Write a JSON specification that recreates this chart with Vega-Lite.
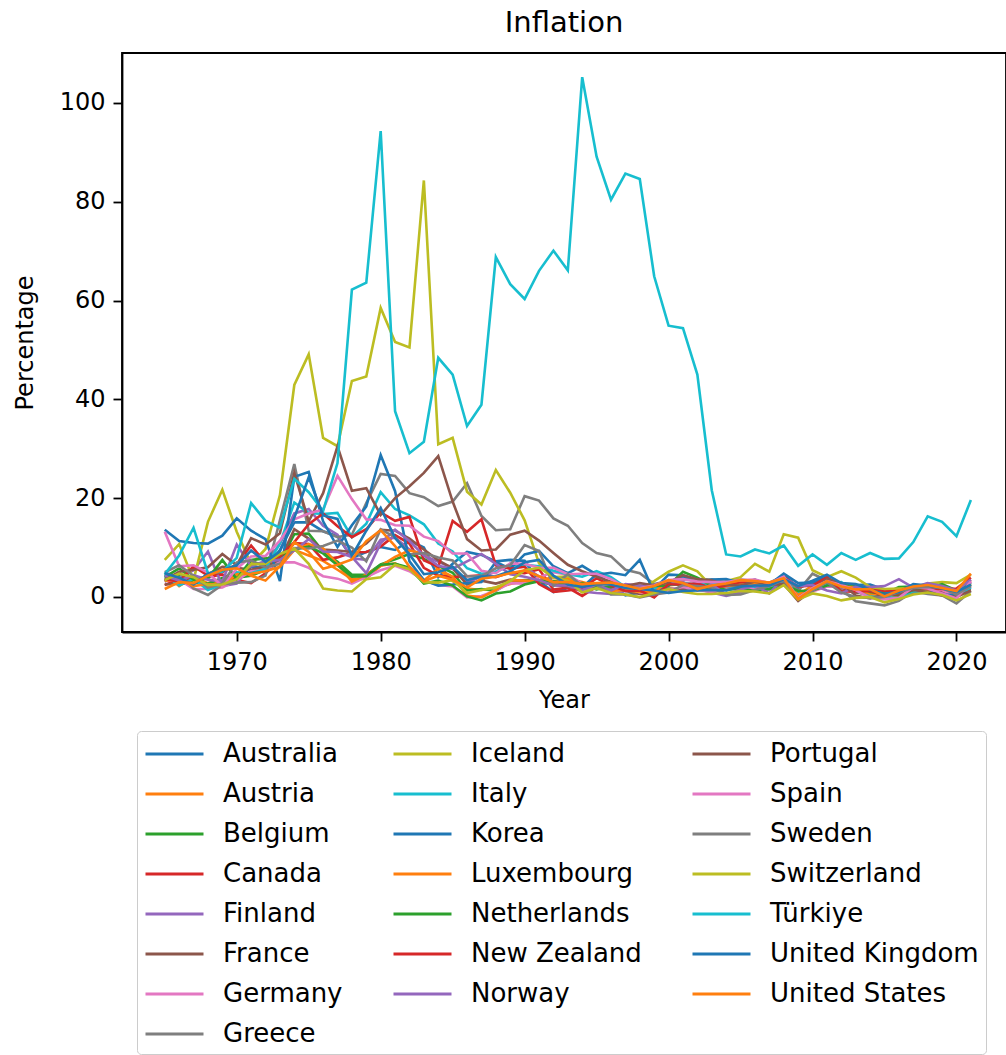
{
"$schema":"https://vega.github.io/schema/vega-lite/v6.json",
"autosize":{"type":"none"},
"padding":{"left":122,"top":53,"right":0,"bottom":423},
"width":884,"height":579,
"background":"white",
"title":{"text":"Inflation","fontSize":29,"font":"DejaVu Sans","fontWeight":"normal","color":"black","offset":15,"anchor":"middle"},
"data":{"values":[
{"c":"Australia","yr":1965,"v":4.0},{"c":"Australia","yr":1966,"v":3.0},{"c":"Australia","yr":1967,"v":3.3},{"c":"Australia","yr":1968,"v":2.6},{"c":"Australia","yr":1969,"v":2.9},{"c":"Australia","yr":1970,"v":3.4},{"c":"Australia","yr":1971,"v":6.1},{"c":"Australia","yr":1972,"v":5.9},{"c":"Australia","yr":1973,"v":9.5},{"c":"Australia","yr":1974,"v":15.1},
{"c":"Australia","yr":1975,"v":15.1},{"c":"Australia","yr":1976,"v":13.3},{"c":"Australia","yr":1977,"v":12.3},{"c":"Australia","yr":1978,"v":7.9},{"c":"Australia","yr":1979,"v":9.1},{"c":"Australia","yr":1980,"v":10.1},{"c":"Australia","yr":1981,"v":9.5},{"c":"Australia","yr":1982,"v":11.4},{"c":"Australia","yr":1983,"v":10.0},{"c":"Australia","yr":1984,"v":4.0},
{"c":"Australia","yr":1985,"v":6.7},{"c":"Australia","yr":1986,"v":9.1},{"c":"Australia","yr":1987,"v":8.5},{"c":"Australia","yr":1988,"v":7.2},{"c":"Australia","yr":1989,"v":7.5},{"c":"Australia","yr":1990,"v":7.3},{"c":"Australia","yr":1991,"v":3.2},{"c":"Australia","yr":1992,"v":1.0},{"c":"Australia","yr":1993,"v":1.8},{"c":"Australia","yr":1994,"v":1.9},
{"c":"Australia","yr":1995,"v":4.6},{"c":"Australia","yr":1996,"v":2.6},{"c":"Australia","yr":1997,"v":0.3},{"c":"Australia","yr":1998,"v":0.9},{"c":"Australia","yr":1999,"v":1.5},{"c":"Australia","yr":2000,"v":4.5},{"c":"Australia","yr":2001,"v":4.4},{"c":"Australia","yr":2002,"v":3.0},{"c":"Australia","yr":2003,"v":2.8},{"c":"Australia","yr":2004,"v":2.3},
{"c":"Australia","yr":2005,"v":2.7},{"c":"Australia","yr":2006,"v":3.5},{"c":"Australia","yr":2007,"v":2.3},{"c":"Australia","yr":2008,"v":4.4},{"c":"Australia","yr":2009,"v":1.8},{"c":"Australia","yr":2010,"v":2.9},{"c":"Australia","yr":2011,"v":3.3},{"c":"Australia","yr":2012,"v":1.8},{"c":"Australia","yr":2013,"v":2.4},{"c":"Australia","yr":2014,"v":2.5},
{"c":"Australia","yr":2015,"v":1.5},{"c":"Australia","yr":2016,"v":1.3},{"c":"Australia","yr":2017,"v":2.0},{"c":"Australia","yr":2018,"v":1.9},{"c":"Australia","yr":2019,"v":1.6},{"c":"Australia","yr":2020,"v":0.8},{"c":"Australia","yr":2021,"v":2.9},
{"c":"Austria","yr":1965,"v":4.9},{"c":"Austria","yr":1966,"v":2.2},{"c":"Austria","yr":1967,"v":4.0},{"c":"Austria","yr":1968,"v":2.8},{"c":"Austria","yr":1969,"v":3.1},{"c":"Austria","yr":1970,"v":4.4},{"c":"Austria","yr":1971,"v":4.7},{"c":"Austria","yr":1972,"v":6.4},{"c":"Austria","yr":1973,"v":7.5},{"c":"Austria","yr":1974,"v":9.5},
{"c":"Austria","yr":1975,"v":8.4},{"c":"Austria","yr":1976,"v":7.3},{"c":"Austria","yr":1977,"v":5.5},{"c":"Austria","yr":1978,"v":3.6},{"c":"Austria","yr":1979,"v":3.7},{"c":"Austria","yr":1980,"v":6.3},{"c":"Austria","yr":1981,"v":6.8},{"c":"Austria","yr":1982,"v":5.4},{"c":"Austria","yr":1983,"v":3.3},{"c":"Austria","yr":1984,"v":5.7},
{"c":"Austria","yr":1985,"v":3.2},{"c":"Austria","yr":1986,"v":1.7},{"c":"Austria","yr":1987,"v":1.4},{"c":"Austria","yr":1988,"v":1.9},{"c":"Austria","yr":1989,"v":2.6},{"c":"Austria","yr":1990,"v":3.3},{"c":"Austria","yr":1991,"v":3.3},{"c":"Austria","yr":1992,"v":4.0},{"c":"Austria","yr":1993,"v":3.6},{"c":"Austria","yr":1994,"v":3.0},
{"c":"Austria","yr":1995,"v":2.2},{"c":"Austria","yr":1996,"v":1.9},{"c":"Austria","yr":1997,"v":1.3},{"c":"Austria","yr":1998,"v":0.9},{"c":"Austria","yr":1999,"v":0.6},{"c":"Austria","yr":2000,"v":2.3},{"c":"Austria","yr":2001,"v":2.7},{"c":"Austria","yr":2002,"v":1.8},{"c":"Austria","yr":2003,"v":1.4},{"c":"Austria","yr":2004,"v":2.1},
{"c":"Austria","yr":2005,"v":2.3},{"c":"Austria","yr":2006,"v":1.4},{"c":"Austria","yr":2007,"v":2.2},{"c":"Austria","yr":2008,"v":3.2},{"c":"Austria","yr":2009,"v":0.5},{"c":"Austria","yr":2010,"v":1.8},{"c":"Austria","yr":2011,"v":3.3},{"c":"Austria","yr":2012,"v":2.5},{"c":"Austria","yr":2013,"v":2.0},{"c":"Austria","yr":2014,"v":1.6},
{"c":"Austria","yr":2015,"v":0.9},{"c":"Austria","yr":2016,"v":0.9},{"c":"Austria","yr":2017,"v":2.1},{"c":"Austria","yr":2018,"v":2.0},{"c":"Austria","yr":2019,"v":1.5},{"c":"Austria","yr":2020,"v":1.4},{"c":"Austria","yr":2021,"v":2.8},
{"c":"Belgium","yr":1965,"v":4.1},{"c":"Belgium","yr":1966,"v":4.2},{"c":"Belgium","yr":1967,"v":2.9},{"c":"Belgium","yr":1968,"v":2.7},{"c":"Belgium","yr":1969,"v":3.8},{"c":"Belgium","yr":1970,"v":3.9},{"c":"Belgium","yr":1971,"v":4.3},{"c":"Belgium","yr":1972,"v":5.5},{"c":"Belgium","yr":1973,"v":7.0},{"c":"Belgium","yr":1974,"v":12.7},
{"c":"Belgium","yr":1975,"v":12.8},{"c":"Belgium","yr":1976,"v":9.2},{"c":"Belgium","yr":1977,"v":7.1},{"c":"Belgium","yr":1978,"v":4.5},{"c":"Belgium","yr":1979,"v":4.5},{"c":"Belgium","yr":1980,"v":6.6},{"c":"Belgium","yr":1981,"v":7.6},{"c":"Belgium","yr":1982,"v":8.7},{"c":"Belgium","yr":1983,"v":7.7},{"c":"Belgium","yr":1984,"v":6.3},
{"c":"Belgium","yr":1985,"v":4.9},{"c":"Belgium","yr":1986,"v":1.3},{"c":"Belgium","yr":1987,"v":1.6},{"c":"Belgium","yr":1988,"v":1.2},{"c":"Belgium","yr":1989,"v":3.1},{"c":"Belgium","yr":1990,"v":3.4},{"c":"Belgium","yr":1991,"v":3.2},{"c":"Belgium","yr":1992,"v":2.4},{"c":"Belgium","yr":1993,"v":2.8},{"c":"Belgium","yr":1994,"v":2.4},
{"c":"Belgium","yr":1995,"v":1.5},{"c":"Belgium","yr":1996,"v":2.1},{"c":"Belgium","yr":1997,"v":1.6},{"c":"Belgium","yr":1998,"v":0.9},{"c":"Belgium","yr":1999,"v":1.1},{"c":"Belgium","yr":2000,"v":2.5},{"c":"Belgium","yr":2001,"v":2.5},{"c":"Belgium","yr":2002,"v":1.6},{"c":"Belgium","yr":2003,"v":1.6},{"c":"Belgium","yr":2004,"v":2.1},
{"c":"Belgium","yr":2005,"v":2.8},{"c":"Belgium","yr":2006,"v":1.8},{"c":"Belgium","yr":2007,"v":1.8},{"c":"Belgium","yr":2008,"v":4.5},{"c":"Belgium","yr":2009,"v":-0.1},{"c":"Belgium","yr":2010,"v":2.2},{"c":"Belgium","yr":2011,"v":3.5},{"c":"Belgium","yr":2012,"v":2.8},{"c":"Belgium","yr":2013,"v":1.1},{"c":"Belgium","yr":2014,"v":0.3},
{"c":"Belgium","yr":2015,"v":0.6},{"c":"Belgium","yr":2016,"v":2.0},{"c":"Belgium","yr":2017,"v":2.1},{"c":"Belgium","yr":2018,"v":2.1},{"c":"Belgium","yr":2019,"v":1.4},{"c":"Belgium","yr":2020,"v":0.7},{"c":"Belgium","yr":2021,"v":2.4},
{"c":"Canada","yr":1965,"v":2.4},{"c":"Canada","yr":1966,"v":3.7},{"c":"Canada","yr":1967,"v":3.6},{"c":"Canada","yr":1968,"v":4.1},{"c":"Canada","yr":1969,"v":4.5},{"c":"Canada","yr":1970,"v":3.4},{"c":"Canada","yr":1971,"v":2.8},{"c":"Canada","yr":1972,"v":4.8},{"c":"Canada","yr":1973,"v":7.6},{"c":"Canada","yr":1974,"v":10.9},
{"c":"Canada","yr":1975,"v":10.7},{"c":"Canada","yr":1976,"v":7.5},{"c":"Canada","yr":1977,"v":8.0},{"c":"Canada","yr":1978,"v":9.0},{"c":"Canada","yr":1979,"v":9.1},{"c":"Canada","yr":1980,"v":10.2},{"c":"Canada","yr":1981,"v":12.5},{"c":"Canada","yr":1982,"v":10.8},{"c":"Canada","yr":1983,"v":5.9},{"c":"Canada","yr":1984,"v":4.3},
{"c":"Canada","yr":1985,"v":4.0},{"c":"Canada","yr":1986,"v":4.2},{"c":"Canada","yr":1987,"v":4.4},{"c":"Canada","yr":1988,"v":4.0},{"c":"Canada","yr":1989,"v":5.0},{"c":"Canada","yr":1990,"v":4.8},{"c":"Canada","yr":1991,"v":5.6},{"c":"Canada","yr":1992,"v":1.5},{"c":"Canada","yr":1993,"v":1.9},{"c":"Canada","yr":1994,"v":0.2},
{"c":"Canada","yr":1995,"v":2.1},{"c":"Canada","yr":1996,"v":1.6},{"c":"Canada","yr":1997,"v":1.6},{"c":"Canada","yr":1998,"v":1.0},{"c":"Canada","yr":1999,"v":1.7},{"c":"Canada","yr":2000,"v":2.7},{"c":"Canada","yr":2001,"v":2.5},{"c":"Canada","yr":2002,"v":2.3},{"c":"Canada","yr":2003,"v":2.8},{"c":"Canada","yr":2004,"v":1.9},
{"c":"Canada","yr":2005,"v":2.2},{"c":"Canada","yr":2006,"v":2.0},{"c":"Canada","yr":2007,"v":2.1},{"c":"Canada","yr":2008,"v":2.4},{"c":"Canada","yr":2009,"v":0.3},{"c":"Canada","yr":2010,"v":1.8},{"c":"Canada","yr":2011,"v":2.9},{"c":"Canada","yr":2012,"v":1.5},{"c":"Canada","yr":2013,"v":0.9},{"c":"Canada","yr":2014,"v":1.9},
{"c":"Canada","yr":2015,"v":1.1},{"c":"Canada","yr":2016,"v":1.4},{"c":"Canada","yr":2017,"v":1.6},{"c":"Canada","yr":2018,"v":2.3},{"c":"Canada","yr":2019,"v":1.9},{"c":"Canada","yr":2020,"v":0.7},{"c":"Canada","yr":2021,"v":3.4},
{"c":"Finland","yr":1965,"v":5.0},{"c":"Finland","yr":1966,"v":3.8},{"c":"Finland","yr":1967,"v":5.4},{"c":"Finland","yr":1968,"v":9.2},{"c":"Finland","yr":1969,"v":2.2},{"c":"Finland","yr":1970,"v":2.7},{"c":"Finland","yr":1971,"v":6.5},{"c":"Finland","yr":1972,"v":7.1},{"c":"Finland","yr":1973,"v":10.7},{"c":"Finland","yr":1974,"v":16.9},
{"c":"Finland","yr":1975,"v":17.8},{"c":"Finland","yr":1976,"v":14.4},{"c":"Finland","yr":1977,"v":12.6},{"c":"Finland","yr":1978,"v":7.8},{"c":"Finland","yr":1979,"v":7.5},{"c":"Finland","yr":1980,"v":11.6},{"c":"Finland","yr":1981,"v":12.0},{"c":"Finland","yr":1982,"v":9.6},{"c":"Finland","yr":1983,"v":8.4},{"c":"Finland","yr":1984,"v":7.1},
{"c":"Finland","yr":1985,"v":5.9},{"c":"Finland","yr":1986,"v":2.9},{"c":"Finland","yr":1987,"v":4.1},{"c":"Finland","yr":1988,"v":5.1},{"c":"Finland","yr":1989,"v":6.6},{"c":"Finland","yr":1990,"v":6.1},{"c":"Finland","yr":1991,"v":4.1},{"c":"Finland","yr":1992,"v":2.6},{"c":"Finland","yr":1993,"v":2.2},{"c":"Finland","yr":1994,"v":1.1},
{"c":"Finland","yr":1995,"v":0.8},{"c":"Finland","yr":1996,"v":0.6},{"c":"Finland","yr":1997,"v":1.2},{"c":"Finland","yr":1998,"v":1.4},{"c":"Finland","yr":1999,"v":1.2},{"c":"Finland","yr":2000,"v":3.4},{"c":"Finland","yr":2001,"v":2.6},{"c":"Finland","yr":2002,"v":1.6},{"c":"Finland","yr":2003,"v":0.9},{"c":"Finland","yr":2004,"v":0.2},
{"c":"Finland","yr":2005,"v":0.9},{"c":"Finland","yr":2006,"v":1.6},{"c":"Finland","yr":2007,"v":2.5},{"c":"Finland","yr":2008,"v":4.1},{"c":"Finland","yr":2009,"v":0.0},{"c":"Finland","yr":2010,"v":1.2},{"c":"Finland","yr":2011,"v":3.4},{"c":"Finland","yr":2012,"v":2.8},{"c":"Finland","yr":2013,"v":1.5},{"c":"Finland","yr":2014,"v":1.0},
{"c":"Finland","yr":2015,"v":-0.2},{"c":"Finland","yr":2016,"v":0.4},{"c":"Finland","yr":2017,"v":0.7},{"c":"Finland","yr":2018,"v":1.1},{"c":"Finland","yr":2019,"v":1.0},{"c":"Finland","yr":2020,"v":0.3},{"c":"Finland","yr":2021,"v":2.2},
{"c":"France","yr":1965,"v":2.5},{"c":"France","yr":1966,"v":2.7},{"c":"France","yr":1967,"v":2.7},{"c":"France","yr":1968,"v":4.6},{"c":"France","yr":1969,"v":6.1},{"c":"France","yr":1970,"v":5.9},{"c":"France","yr":1971,"v":5.5},{"c":"France","yr":1972,"v":6.2},{"c":"France","yr":1973,"v":7.3},{"c":"France","yr":1974,"v":13.7},
{"c":"France","yr":1975,"v":11.8},{"c":"France","yr":1976,"v":9.6},{"c":"France","yr":1977,"v":9.4},{"c":"France","yr":1978,"v":9.1},{"c":"France","yr":1979,"v":10.8},{"c":"France","yr":1980,"v":13.6},{"c":"France","yr":1981,"v":13.4},{"c":"France","yr":1982,"v":11.8},{"c":"France","yr":1983,"v":9.6},{"c":"France","yr":1984,"v":7.4},
{"c":"France","yr":1985,"v":5.8},{"c":"France","yr":1986,"v":2.5},{"c":"France","yr":1987,"v":3.3},{"c":"France","yr":1988,"v":2.7},{"c":"France","yr":1989,"v":3.5},{"c":"France","yr":1990,"v":3.2},{"c":"France","yr":1991,"v":3.2},{"c":"France","yr":1992,"v":2.4},{"c":"France","yr":1993,"v":2.1},{"c":"France","yr":1994,"v":1.7},
{"c":"France","yr":1995,"v":1.8},{"c":"France","yr":1996,"v":2.0},{"c":"France","yr":1997,"v":1.2},{"c":"France","yr":1998,"v":0.6},{"c":"France","yr":1999,"v":0.5},{"c":"France","yr":2000,"v":1.7},{"c":"France","yr":2001,"v":1.6},{"c":"France","yr":2002,"v":1.9},{"c":"France","yr":2003,"v":2.1},{"c":"France","yr":2004,"v":2.1},
{"c":"France","yr":2005,"v":1.7},{"c":"France","yr":2006,"v":1.7},{"c":"France","yr":2007,"v":1.5},{"c":"France","yr":2008,"v":2.8},{"c":"France","yr":2009,"v":0.1},{"c":"France","yr":2010,"v":1.5},{"c":"France","yr":2011,"v":2.1},{"c":"France","yr":2012,"v":2.0},{"c":"France","yr":2013,"v":0.9},{"c":"France","yr":2014,"v":0.5},
{"c":"France","yr":2015,"v":0.0},{"c":"France","yr":2016,"v":0.2},{"c":"France","yr":2017,"v":1.0},{"c":"France","yr":2018,"v":1.9},{"c":"France","yr":2019,"v":1.1},{"c":"France","yr":2020,"v":0.5},{"c":"France","yr":2021,"v":1.6},
{"c":"Germany","yr":1965,"v":3.2},{"c":"Germany","yr":1966,"v":3.5},{"c":"Germany","yr":1967,"v":1.6},{"c":"Germany","yr":1968,"v":1.6},{"c":"Germany","yr":1969,"v":1.9},{"c":"Germany","yr":1970,"v":3.4},{"c":"Germany","yr":1971,"v":5.2},{"c":"Germany","yr":1972,"v":5.5},{"c":"Germany","yr":1973,"v":7.0},{"c":"Germany","yr":1974,"v":7.0},
{"c":"Germany","yr":1975,"v":5.9},{"c":"Germany","yr":1976,"v":4.2},{"c":"Germany","yr":1977,"v":3.7},{"c":"Germany","yr":1978,"v":2.7},{"c":"Germany","yr":1979,"v":4.0},{"c":"Germany","yr":1980,"v":5.4},{"c":"Germany","yr":1981,"v":6.3},{"c":"Germany","yr":1982,"v":5.2},{"c":"Germany","yr":1983,"v":3.3},{"c":"Germany","yr":1984,"v":2.4},
{"c":"Germany","yr":1985,"v":2.1},{"c":"Germany","yr":1986,"v":-0.1},{"c":"Germany","yr":1987,"v":0.2},{"c":"Germany","yr":1988,"v":1.3},{"c":"Germany","yr":1989,"v":2.8},{"c":"Germany","yr":1990,"v":2.7},{"c":"Germany","yr":1991,"v":4.0},{"c":"Germany","yr":1992,"v":5.0},{"c":"Germany","yr":1993,"v":4.5},{"c":"Germany","yr":1994,"v":2.7},
{"c":"Germany","yr":1995,"v":1.7},{"c":"Germany","yr":1996,"v":1.4},{"c":"Germany","yr":1997,"v":1.9},{"c":"Germany","yr":1998,"v":0.9},{"c":"Germany","yr":1999,"v":0.6},{"c":"Germany","yr":2000,"v":1.4},{"c":"Germany","yr":2001,"v":2.0},{"c":"Germany","yr":2002,"v":1.4},{"c":"Germany","yr":2003,"v":1.0},{"c":"Germany","yr":2004,"v":1.7},
{"c":"Germany","yr":2005,"v":1.5},{"c":"Germany","yr":2006,"v":1.6},{"c":"Germany","yr":2007,"v":2.3},{"c":"Germany","yr":2008,"v":2.6},{"c":"Germany","yr":2009,"v":0.3},{"c":"Germany","yr":2010,"v":1.1},{"c":"Germany","yr":2011,"v":2.1},{"c":"Germany","yr":2012,"v":2.0},{"c":"Germany","yr":2013,"v":1.4},{"c":"Germany","yr":2014,"v":1.0},
{"c":"Germany","yr":2015,"v":0.5},{"c":"Germany","yr":2016,"v":0.5},{"c":"Germany","yr":2017,"v":1.5},{"c":"Germany","yr":2018,"v":1.7},{"c":"Germany","yr":2019,"v":1.4},{"c":"Germany","yr":2020,"v":0.1},{"c":"Germany","yr":2021,"v":3.1},
{"c":"Greece","yr":1965,"v":3.1},{"c":"Greece","yr":1966,"v":5.0},{"c":"Greece","yr":1967,"v":1.7},{"c":"Greece","yr":1968,"v":0.4},{"c":"Greece","yr":1969,"v":2.5},{"c":"Greece","yr":1970,"v":2.9},{"c":"Greece","yr":1971,"v":3.0},{"c":"Greece","yr":1972,"v":4.3},{"c":"Greece","yr":1973,"v":15.5},{"c":"Greece","yr":1974,"v":26.9},
{"c":"Greece","yr":1975,"v":13.4},{"c":"Greece","yr":1976,"v":13.3},{"c":"Greece","yr":1977,"v":12.1},{"c":"Greece","yr":1978,"v":12.6},{"c":"Greece","yr":1979,"v":19.0},{"c":"Greece","yr":1980,"v":24.9},{"c":"Greece","yr":1981,"v":24.5},{"c":"Greece","yr":1982,"v":21.0},{"c":"Greece","yr":1983,"v":20.2},{"c":"Greece","yr":1984,"v":18.4},
{"c":"Greece","yr":1985,"v":19.3},{"c":"Greece","yr":1986,"v":23.0},{"c":"Greece","yr":1987,"v":16.4},{"c":"Greece","yr":1988,"v":13.5},{"c":"Greece","yr":1989,"v":13.7},{"c":"Greece","yr":1990,"v":20.4},{"c":"Greece","yr":1991,"v":19.5},{"c":"Greece","yr":1992,"v":15.9},{"c":"Greece","yr":1993,"v":14.4},{"c":"Greece","yr":1994,"v":10.9},
{"c":"Greece","yr":1995,"v":8.9},{"c":"Greece","yr":1996,"v":8.2},{"c":"Greece","yr":1997,"v":5.5},{"c":"Greece","yr":1998,"v":4.8},{"c":"Greece","yr":1999,"v":2.6},{"c":"Greece","yr":2000,"v":3.2},{"c":"Greece","yr":2001,"v":3.4},{"c":"Greece","yr":2002,"v":3.6},{"c":"Greece","yr":2003,"v":3.5},{"c":"Greece","yr":2004,"v":2.9},
{"c":"Greece","yr":2005,"v":3.5},{"c":"Greece","yr":2006,"v":3.2},{"c":"Greece","yr":2007,"v":2.9},{"c":"Greece","yr":2008,"v":4.2},{"c":"Greece","yr":2009,"v":1.2},{"c":"Greece","yr":2010,"v":4.7},{"c":"Greece","yr":2011,"v":3.3},{"c":"Greece","yr":2012,"v":1.5},{"c":"Greece","yr":2013,"v":-0.9},{"c":"Greece","yr":2014,"v":-1.3},
{"c":"Greece","yr":2015,"v":-1.7},{"c":"Greece","yr":2016,"v":-0.8},{"c":"Greece","yr":2017,"v":1.1},{"c":"Greece","yr":2018,"v":0.6},{"c":"Greece","yr":2019,"v":0.3},{"c":"Greece","yr":2020,"v":-1.3},{"c":"Greece","yr":2021,"v":1.2},
{"c":"Iceland","yr":1965,"v":7.5},{"c":"Iceland","yr":1966,"v":10.7},{"c":"Iceland","yr":1967,"v":3.4},{"c":"Iceland","yr":1968,"v":15.2},{"c":"Iceland","yr":1969,"v":21.7},{"c":"Iceland","yr":1970,"v":13.2},{"c":"Iceland","yr":1971,"v":6.6},{"c":"Iceland","yr":1972,"v":9.7},{"c":"Iceland","yr":1973,"v":20.6},{"c":"Iceland","yr":1974,"v":42.9},
{"c":"Iceland","yr":1975,"v":49.1},{"c":"Iceland","yr":1976,"v":32.2},{"c":"Iceland","yr":1977,"v":30.5},{"c":"Iceland","yr":1978,"v":43.7},{"c":"Iceland","yr":1979,"v":44.6},{"c":"Iceland","yr":1980,"v":58.5},{"c":"Iceland","yr":1981,"v":51.6},{"c":"Iceland","yr":1982,"v":50.5},{"c":"Iceland","yr":1983,"v":84.3},{"c":"Iceland","yr":1984,"v":30.9},
{"c":"Iceland","yr":1985,"v":32.2},{"c":"Iceland","yr":1986,"v":21.3},{"c":"Iceland","yr":1987,"v":18.7},{"c":"Iceland","yr":1988,"v":25.7},{"c":"Iceland","yr":1989,"v":21.1},{"c":"Iceland","yr":1990,"v":15.5},{"c":"Iceland","yr":1991,"v":6.8},{"c":"Iceland","yr":1992,"v":4.0},{"c":"Iceland","yr":1993,"v":4.1},{"c":"Iceland","yr":1994,"v":1.6},
{"c":"Iceland","yr":1995,"v":1.7},{"c":"Iceland","yr":1996,"v":2.3},{"c":"Iceland","yr":1997,"v":1.8},{"c":"Iceland","yr":1998,"v":1.7},{"c":"Iceland","yr":1999,"v":3.2},{"c":"Iceland","yr":2000,"v":5.1},{"c":"Iceland","yr":2001,"v":6.4},{"c":"Iceland","yr":2002,"v":5.2},{"c":"Iceland","yr":2003,"v":2.1},{"c":"Iceland","yr":2004,"v":3.2},
{"c":"Iceland","yr":2005,"v":4.0},{"c":"Iceland","yr":2006,"v":6.7},{"c":"Iceland","yr":2007,"v":5.1},{"c":"Iceland","yr":2008,"v":12.7},{"c":"Iceland","yr":2009,"v":12.0},{"c":"Iceland","yr":2010,"v":5.4},{"c":"Iceland","yr":2011,"v":4.0},{"c":"Iceland","yr":2012,"v":5.2},{"c":"Iceland","yr":2013,"v":3.9},{"c":"Iceland","yr":2014,"v":2.0},
{"c":"Iceland","yr":2015,"v":1.6},{"c":"Iceland","yr":2016,"v":1.7},{"c":"Iceland","yr":2017,"v":1.8},{"c":"Iceland","yr":2018,"v":2.7},{"c":"Iceland","yr":2019,"v":3.0},{"c":"Iceland","yr":2020,"v":2.8},{"c":"Iceland","yr":2021,"v":4.5},
{"c":"Italy","yr":1965,"v":4.6},{"c":"Italy","yr":1966,"v":2.3},{"c":"Italy","yr":1967,"v":3.7},{"c":"Italy","yr":1968,"v":1.4},{"c":"Italy","yr":1969,"v":2.6},{"c":"Italy","yr":1970,"v":5.0},{"c":"Italy","yr":1971,"v":4.8},{"c":"Italy","yr":1972,"v":5.7},{"c":"Italy","yr":1973,"v":10.8},{"c":"Italy","yr":1974,"v":19.1},
{"c":"Italy","yr":1975,"v":17.0},{"c":"Italy","yr":1976,"v":16.8},{"c":"Italy","yr":1977,"v":17.0},{"c":"Italy","yr":1978,"v":12.1},{"c":"Italy","yr":1979,"v":14.8},{"c":"Italy","yr":1980,"v":21.2},{"c":"Italy","yr":1981,"v":17.8},{"c":"Italy","yr":1982,"v":16.5},{"c":"Italy","yr":1983,"v":14.7},{"c":"Italy","yr":1984,"v":10.8},
{"c":"Italy","yr":1985,"v":9.2},{"c":"Italy","yr":1986,"v":5.8},{"c":"Italy","yr":1987,"v":4.7},{"c":"Italy","yr":1988,"v":5.1},{"c":"Italy","yr":1989,"v":6.3},{"c":"Italy","yr":1990,"v":6.5},{"c":"Italy","yr":1991,"v":6.2},{"c":"Italy","yr":1992,"v":5.3},{"c":"Italy","yr":1993,"v":4.6},{"c":"Italy","yr":1994,"v":4.1},
{"c":"Italy","yr":1995,"v":5.2},{"c":"Italy","yr":1996,"v":4.0},{"c":"Italy","yr":1997,"v":2.0},{"c":"Italy","yr":1998,"v":2.0},{"c":"Italy","yr":1999,"v":1.7},{"c":"Italy","yr":2000,"v":2.5},{"c":"Italy","yr":2001,"v":2.8},{"c":"Italy","yr":2002,"v":2.5},{"c":"Italy","yr":2003,"v":2.7},{"c":"Italy","yr":2004,"v":2.2},
{"c":"Italy","yr":2005,"v":2.0},{"c":"Italy","yr":2006,"v":2.1},{"c":"Italy","yr":2007,"v":1.8},{"c":"Italy","yr":2008,"v":3.3},{"c":"Italy","yr":2009,"v":0.8},{"c":"Italy","yr":2010,"v":1.5},{"c":"Italy","yr":2011,"v":2.7},{"c":"Italy","yr":2012,"v":3.0},{"c":"Italy","yr":2013,"v":1.2},{"c":"Italy","yr":2014,"v":0.2},
{"c":"Italy","yr":2015,"v":0.0},{"c":"Italy","yr":2016,"v":-0.1},{"c":"Italy","yr":2017,"v":1.2},{"c":"Italy","yr":2018,"v":1.1},{"c":"Italy","yr":2019,"v":0.6},{"c":"Italy","yr":2020,"v":-0.1},{"c":"Italy","yr":2021,"v":1.9},
{"c":"Korea","yr":1965,"v":13.6},{"c":"Korea","yr":1966,"v":11.3},{"c":"Korea","yr":1967,"v":10.9},{"c":"Korea","yr":1968,"v":10.8},{"c":"Korea","yr":1969,"v":12.4},{"c":"Korea","yr":1970,"v":15.9},{"c":"Korea","yr":1971,"v":13.4},{"c":"Korea","yr":1972,"v":11.7},{"c":"Korea","yr":1973,"v":3.2},{"c":"Korea","yr":1974,"v":24.3},
{"c":"Korea","yr":1975,"v":25.3},{"c":"Korea","yr":1976,"v":15.3},{"c":"Korea","yr":1977,"v":10.1},{"c":"Korea","yr":1978,"v":14.5},{"c":"Korea","yr":1979,"v":18.3},{"c":"Korea","yr":1980,"v":28.7},{"c":"Korea","yr":1981,"v":21.4},{"c":"Korea","yr":1982,"v":7.2},{"c":"Korea","yr":1983,"v":3.4},{"c":"Korea","yr":1984,"v":2.3},
{"c":"Korea","yr":1985,"v":2.5},{"c":"Korea","yr":1986,"v":2.8},{"c":"Korea","yr":1987,"v":3.0},{"c":"Korea","yr":1988,"v":7.1},{"c":"Korea","yr":1989,"v":5.7},{"c":"Korea","yr":1990,"v":8.6},{"c":"Korea","yr":1991,"v":9.3},{"c":"Korea","yr":1992,"v":6.2},{"c":"Korea","yr":1993,"v":4.8},{"c":"Korea","yr":1994,"v":6.3},
{"c":"Korea","yr":1995,"v":4.5},{"c":"Korea","yr":1996,"v":4.9},{"c":"Korea","yr":1997,"v":4.4},{"c":"Korea","yr":1998,"v":7.5},{"c":"Korea","yr":1999,"v":0.8},{"c":"Korea","yr":2000,"v":2.3},{"c":"Korea","yr":2001,"v":4.1},{"c":"Korea","yr":2002,"v":2.8},{"c":"Korea","yr":2003,"v":3.5},{"c":"Korea","yr":2004,"v":3.6},
{"c":"Korea","yr":2005,"v":2.8},{"c":"Korea","yr":2006,"v":2.2},{"c":"Korea","yr":2007,"v":2.5},{"c":"Korea","yr":2008,"v":4.7},{"c":"Korea","yr":2009,"v":2.8},{"c":"Korea","yr":2010,"v":2.9},{"c":"Korea","yr":2011,"v":4.0},{"c":"Korea","yr":2012,"v":2.2},{"c":"Korea","yr":2013,"v":1.3},{"c":"Korea","yr":2014,"v":1.3},
{"c":"Korea","yr":2015,"v":0.7},{"c":"Korea","yr":2016,"v":1.0},{"c":"Korea","yr":2017,"v":1.9},{"c":"Korea","yr":2018,"v":1.5},{"c":"Korea","yr":2019,"v":0.4},{"c":"Korea","yr":2020,"v":0.5},{"c":"Korea","yr":2021,"v":2.5},
{"c":"Luxembourg","yr":1965,"v":3.3},{"c":"Luxembourg","yr":1966,"v":3.5},{"c":"Luxembourg","yr":1967,"v":2.2},{"c":"Luxembourg","yr":1968,"v":2.6},{"c":"Luxembourg","yr":1969,"v":2.3},{"c":"Luxembourg","yr":1970,"v":4.6},{"c":"Luxembourg","yr":1971,"v":4.7},{"c":"Luxembourg","yr":1972,"v":5.2},{"c":"Luxembourg","yr":1973,"v":6.1},{"c":"Luxembourg","yr":1974,"v":9.5},
{"c":"Luxembourg","yr":1975,"v":10.7},{"c":"Luxembourg","yr":1976,"v":9.8},{"c":"Luxembourg","yr":1977,"v":6.7},{"c":"Luxembourg","yr":1978,"v":3.1},{"c":"Luxembourg","yr":1979,"v":4.5},{"c":"Luxembourg","yr":1980,"v":6.3},{"c":"Luxembourg","yr":1981,"v":8.1},{"c":"Luxembourg","yr":1982,"v":9.4},{"c":"Luxembourg","yr":1983,"v":8.7},{"c":"Luxembourg","yr":1984,"v":5.6},
{"c":"Luxembourg","yr":1985,"v":4.1},{"c":"Luxembourg","yr":1986,"v":0.3},{"c":"Luxembourg","yr":1987,"v":-0.1},{"c":"Luxembourg","yr":1988,"v":1.4},{"c":"Luxembourg","yr":1989,"v":3.4},{"c":"Luxembourg","yr":1990,"v":3.3},{"c":"Luxembourg","yr":1991,"v":3.1},{"c":"Luxembourg","yr":1992,"v":3.2},{"c":"Luxembourg","yr":1993,"v":3.6},{"c":"Luxembourg","yr":1994,"v":2.2},
{"c":"Luxembourg","yr":1995,"v":1.9},{"c":"Luxembourg","yr":1996,"v":1.2},{"c":"Luxembourg","yr":1997,"v":1.4},{"c":"Luxembourg","yr":1998,"v":1.0},{"c":"Luxembourg","yr":1999,"v":1.0},{"c":"Luxembourg","yr":2000,"v":3.2},{"c":"Luxembourg","yr":2001,"v":2.7},{"c":"Luxembourg","yr":2002,"v":2.1},{"c":"Luxembourg","yr":2003,"v":2.0},{"c":"Luxembourg","yr":2004,"v":2.2},
{"c":"Luxembourg","yr":2005,"v":2.5},{"c":"Luxembourg","yr":2006,"v":2.7},{"c":"Luxembourg","yr":2007,"v":2.3},{"c":"Luxembourg","yr":2008,"v":3.4},{"c":"Luxembourg","yr":2009,"v":0.4},{"c":"Luxembourg","yr":2010,"v":2.3},{"c":"Luxembourg","yr":2011,"v":3.4},{"c":"Luxembourg","yr":2012,"v":2.7},{"c":"Luxembourg","yr":2013,"v":1.7},{"c":"Luxembourg","yr":2014,"v":0.6},
{"c":"Luxembourg","yr":2015,"v":0.5},{"c":"Luxembourg","yr":2016,"v":0.3},{"c":"Luxembourg","yr":2017,"v":1.7},{"c":"Luxembourg","yr":2018,"v":1.5},{"c":"Luxembourg","yr":2019,"v":1.7},{"c":"Luxembourg","yr":2020,"v":0.8},{"c":"Luxembourg","yr":2021,"v":2.5},
{"c":"Netherlands","yr":1965,"v":4.0},{"c":"Netherlands","yr":1966,"v":5.8},{"c":"Netherlands","yr":1967,"v":3.5},{"c":"Netherlands","yr":1968,"v":3.7},{"c":"Netherlands","yr":1969,"v":7.5},{"c":"Netherlands","yr":1970,"v":3.6},{"c":"Netherlands","yr":1971,"v":7.5},{"c":"Netherlands","yr":1972,"v":7.8},{"c":"Netherlands","yr":1973,"v":8.0},{"c":"Netherlands","yr":1974,"v":9.6},
{"c":"Netherlands","yr":1975,"v":10.2},{"c":"Netherlands","yr":1976,"v":8.8},{"c":"Netherlands","yr":1977,"v":6.4},{"c":"Netherlands","yr":1978,"v":4.1},{"c":"Netherlands","yr":1979,"v":4.2},{"c":"Netherlands","yr":1980,"v":6.5},{"c":"Netherlands","yr":1981,"v":6.7},{"c":"Netherlands","yr":1982,"v":5.9},{"c":"Netherlands","yr":1983,"v":2.7},{"c":"Netherlands","yr":1984,"v":3.3},
{"c":"Netherlands","yr":1985,"v":2.3},{"c":"Netherlands","yr":1986,"v":0.1},{"c":"Netherlands","yr":1987,"v":-0.7},{"c":"Netherlands","yr":1988,"v":0.7},{"c":"Netherlands","yr":1989,"v":1.1},{"c":"Netherlands","yr":1990,"v":2.5},{"c":"Netherlands","yr":1991,"v":3.2},{"c":"Netherlands","yr":1992,"v":3.2},{"c":"Netherlands","yr":1993,"v":2.6},{"c":"Netherlands","yr":1994,"v":2.8},
{"c":"Netherlands","yr":1995,"v":1.9},{"c":"Netherlands","yr":1996,"v":2.0},{"c":"Netherlands","yr":1997,"v":2.2},{"c":"Netherlands","yr":1998,"v":2.0},{"c":"Netherlands","yr":1999,"v":2.2},{"c":"Netherlands","yr":2000,"v":2.3},{"c":"Netherlands","yr":2001,"v":5.1},{"c":"Netherlands","yr":2002,"v":3.9},{"c":"Netherlands","yr":2003,"v":2.2},{"c":"Netherlands","yr":2004,"v":1.4},
{"c":"Netherlands","yr":2005,"v":1.7},{"c":"Netherlands","yr":2006,"v":1.2},{"c":"Netherlands","yr":2007,"v":1.6},{"c":"Netherlands","yr":2008,"v":2.5},{"c":"Netherlands","yr":2009,"v":1.2},{"c":"Netherlands","yr":2010,"v":1.3},{"c":"Netherlands","yr":2011,"v":2.3},{"c":"Netherlands","yr":2012,"v":2.5},{"c":"Netherlands","yr":2013,"v":2.5},{"c":"Netherlands","yr":2014,"v":1.0},
{"c":"Netherlands","yr":2015,"v":0.6},{"c":"Netherlands","yr":2016,"v":0.3},{"c":"Netherlands","yr":2017,"v":1.4},{"c":"Netherlands","yr":2018,"v":1.7},{"c":"Netherlands","yr":2019,"v":2.6},{"c":"Netherlands","yr":2020,"v":1.3},{"c":"Netherlands","yr":2021,"v":2.7},
{"c":"New Zealand","yr":1965,"v":3.6},{"c":"New Zealand","yr":1966,"v":3.1},{"c":"New Zealand","yr":1967,"v":6.2},{"c":"New Zealand","yr":1968,"v":4.3},{"c":"New Zealand","yr":1969,"v":5.0},{"c":"New Zealand","yr":1970,"v":6.6},{"c":"New Zealand","yr":1971,"v":10.4},{"c":"New Zealand","yr":1972,"v":6.9},{"c":"New Zealand","yr":1973,"v":8.2},{"c":"New Zealand","yr":1974,"v":11.1},
{"c":"New Zealand","yr":1975,"v":14.7},{"c":"New Zealand","yr":1976,"v":16.9},{"c":"New Zealand","yr":1977,"v":14.3},{"c":"New Zealand","yr":1978,"v":12.1},{"c":"New Zealand","yr":1979,"v":13.7},{"c":"New Zealand","yr":1980,"v":17.1},{"c":"New Zealand","yr":1981,"v":15.4},{"c":"New Zealand","yr":1982,"v":16.2},{"c":"New Zealand","yr":1983,"v":7.4},{"c":"New Zealand","yr":1984,"v":6.1},
{"c":"New Zealand","yr":1985,"v":15.4},{"c":"New Zealand","yr":1986,"v":13.2},{"c":"New Zealand","yr":1987,"v":15.7},{"c":"New Zealand","yr":1988,"v":6.4},{"c":"New Zealand","yr":1989,"v":5.7},{"c":"New Zealand","yr":1990,"v":6.1},{"c":"New Zealand","yr":1991,"v":2.6},{"c":"New Zealand","yr":1992,"v":1.0},{"c":"New Zealand","yr":1993,"v":1.3},{"c":"New Zealand","yr":1994,"v":1.7},
{"c":"New Zealand","yr":1995,"v":3.8},{"c":"New Zealand","yr":1996,"v":2.3},{"c":"New Zealand","yr":1997,"v":1.2},{"c":"New Zealand","yr":1998,"v":1.3},{"c":"New Zealand","yr":1999,"v":-0.1},{"c":"New Zealand","yr":2000,"v":2.6},{"c":"New Zealand","yr":2001,"v":2.6},{"c":"New Zealand","yr":2002,"v":2.7},{"c":"New Zealand","yr":2003,"v":1.8},{"c":"New Zealand","yr":2004,"v":2.3},
{"c":"New Zealand","yr":2005,"v":3.0},{"c":"New Zealand","yr":2006,"v":3.4},{"c":"New Zealand","yr":2007,"v":2.4},{"c":"New Zealand","yr":2008,"v":4.0},{"c":"New Zealand","yr":2009,"v":2.1},{"c":"New Zealand","yr":2010,"v":2.3},{"c":"New Zealand","yr":2011,"v":4.0},{"c":"New Zealand","yr":2012,"v":1.1},{"c":"New Zealand","yr":2013,"v":1.1},{"c":"New Zealand","yr":2014,"v":1.2},
{"c":"New Zealand","yr":2015,"v":0.3},{"c":"New Zealand","yr":2016,"v":0.6},{"c":"New Zealand","yr":2017,"v":1.9},{"c":"New Zealand","yr":2018,"v":1.6},{"c":"New Zealand","yr":2019,"v":1.6},{"c":"New Zealand","yr":2020,"v":1.7},{"c":"New Zealand","yr":2021,"v":3.9},
{"c":"Norway","yr":1965,"v":4.3},{"c":"Norway","yr":1966,"v":3.3},{"c":"Norway","yr":1967,"v":4.4},{"c":"Norway","yr":1968,"v":3.5},{"c":"Norway","yr":1969,"v":3.1},{"c":"Norway","yr":1970,"v":10.6},{"c":"Norway","yr":1971,"v":6.2},{"c":"Norway","yr":1972,"v":7.2},{"c":"Norway","yr":1973,"v":7.5},{"c":"Norway","yr":1974,"v":9.4},
{"c":"Norway","yr":1975,"v":11.7},{"c":"Norway","yr":1976,"v":9.2},{"c":"Norway","yr":1977,"v":9.1},{"c":"Norway","yr":1978,"v":8.1},{"c":"Norway","yr":1979,"v":4.8},{"c":"Norway","yr":1980,"v":10.9},{"c":"Norway","yr":1981,"v":13.6},{"c":"Norway","yr":1982,"v":11.3},{"c":"Norway","yr":1983,"v":8.4},{"c":"Norway","yr":1984,"v":6.3},
{"c":"Norway","yr":1985,"v":5.7},{"c":"Norway","yr":1986,"v":7.2},{"c":"Norway","yr":1987,"v":8.7},{"c":"Norway","yr":1988,"v":6.7},{"c":"Norway","yr":1989,"v":4.6},{"c":"Norway","yr":1990,"v":4.1},{"c":"Norway","yr":1991,"v":3.4},{"c":"Norway","yr":1992,"v":2.3},{"c":"Norway","yr":1993,"v":2.3},{"c":"Norway","yr":1994,"v":1.4},
{"c":"Norway","yr":1995,"v":2.5},{"c":"Norway","yr":1996,"v":1.3},{"c":"Norway","yr":1997,"v":2.6},{"c":"Norway","yr":1998,"v":2.3},{"c":"Norway","yr":1999,"v":2.3},{"c":"Norway","yr":2000,"v":3.1},{"c":"Norway","yr":2001,"v":3.0},{"c":"Norway","yr":2002,"v":1.3},{"c":"Norway","yr":2003,"v":2.5},{"c":"Norway","yr":2004,"v":0.5},
{"c":"Norway","yr":2005,"v":1.5},{"c":"Norway","yr":2006,"v":2.3},{"c":"Norway","yr":2007,"v":0.7},{"c":"Norway","yr":2008,"v":3.8},{"c":"Norway","yr":2009,"v":2.2},{"c":"Norway","yr":2010,"v":2.4},{"c":"Norway","yr":2011,"v":1.3},{"c":"Norway","yr":2012,"v":0.7},{"c":"Norway","yr":2013,"v":2.1},{"c":"Norway","yr":2014,"v":2.0},
{"c":"Norway","yr":2015,"v":2.2},{"c":"Norway","yr":2016,"v":3.6},{"c":"Norway","yr":2017,"v":1.9},{"c":"Norway","yr":2018,"v":2.8},{"c":"Norway","yr":2019,"v":2.2},{"c":"Norway","yr":2020,"v":1.3},{"c":"Norway","yr":2021,"v":3.5},
{"c":"Portugal","yr":1965,"v":3.4},{"c":"Portugal","yr":1966,"v":5.1},{"c":"Portugal","yr":1967,"v":5.5},{"c":"Portugal","yr":1968,"v":6.0},{"c":"Portugal","yr":1969,"v":8.7},{"c":"Portugal","yr":1970,"v":6.4},{"c":"Portugal","yr":1971,"v":11.9},{"c":"Portugal","yr":1972,"v":10.6},{"c":"Portugal","yr":1973,"v":12.9},{"c":"Portugal","yr":1974,"v":25.1},
{"c":"Portugal","yr":1975,"v":15.3},{"c":"Portugal","yr":1976,"v":21.0},{"c":"Portugal","yr":1977,"v":30.5},{"c":"Portugal","yr":1978,"v":21.5},{"c":"Portugal","yr":1979,"v":22.0},{"c":"Portugal","yr":1980,"v":16.6},{"c":"Portugal","yr":1981,"v":20.0},{"c":"Portugal","yr":1982,"v":22.4},{"c":"Portugal","yr":1983,"v":25.1},{"c":"Portugal","yr":1984,"v":28.5},
{"c":"Portugal","yr":1985,"v":19.3},{"c":"Portugal","yr":1986,"v":11.7},{"c":"Portugal","yr":1987,"v":9.4},{"c":"Portugal","yr":1988,"v":9.6},{"c":"Portugal","yr":1989,"v":12.6},{"c":"Portugal","yr":1990,"v":13.4},{"c":"Portugal","yr":1991,"v":11.4},{"c":"Portugal","yr":1992,"v":8.9},{"c":"Portugal","yr":1993,"v":6.5},{"c":"Portugal","yr":1994,"v":5.2},
{"c":"Portugal","yr":1995,"v":4.1},{"c":"Portugal","yr":1996,"v":3.1},{"c":"Portugal","yr":1997,"v":2.2},{"c":"Portugal","yr":1998,"v":2.8},{"c":"Portugal","yr":1999,"v":2.3},{"c":"Portugal","yr":2000,"v":2.9},{"c":"Portugal","yr":2001,"v":4.4},{"c":"Portugal","yr":2002,"v":3.6},{"c":"Portugal","yr":2003,"v":3.3},{"c":"Portugal","yr":2004,"v":2.4},
{"c":"Portugal","yr":2005,"v":2.3},{"c":"Portugal","yr":2006,"v":3.1},{"c":"Portugal","yr":2007,"v":2.5},{"c":"Portugal","yr":2008,"v":2.6},{"c":"Portugal","yr":2009,"v":-0.8},{"c":"Portugal","yr":2010,"v":1.4},{"c":"Portugal","yr":2011,"v":3.7},{"c":"Portugal","yr":2012,"v":2.8},{"c":"Portugal","yr":2013,"v":0.3},{"c":"Portugal","yr":2014,"v":-0.3},
{"c":"Portugal","yr":2015,"v":0.5},{"c":"Portugal","yr":2016,"v":0.6},{"c":"Portugal","yr":2017,"v":1.4},{"c":"Portugal","yr":2018,"v":1.0},{"c":"Portugal","yr":2019,"v":0.3},{"c":"Portugal","yr":2020,"v":0.0},{"c":"Portugal","yr":2021,"v":1.3},
{"c":"Spain","yr":1965,"v":13.2},{"c":"Spain","yr":1966,"v":6.2},{"c":"Spain","yr":1967,"v":6.4},{"c":"Spain","yr":1968,"v":4.9},{"c":"Spain","yr":1969,"v":2.2},{"c":"Spain","yr":1970,"v":5.7},{"c":"Spain","yr":1971,"v":8.2},{"c":"Spain","yr":1972,"v":8.3},{"c":"Spain","yr":1973,"v":11.4},{"c":"Spain","yr":1974,"v":15.7},
{"c":"Spain","yr":1975,"v":16.9},{"c":"Spain","yr":1976,"v":17.7},{"c":"Spain","yr":1977,"v":24.5},{"c":"Spain","yr":1978,"v":19.8},{"c":"Spain","yr":1979,"v":15.7},{"c":"Spain","yr":1980,"v":15.6},{"c":"Spain","yr":1981,"v":14.5},{"c":"Spain","yr":1982,"v":14.4},{"c":"Spain","yr":1983,"v":12.2},{"c":"Spain","yr":1984,"v":11.3},
{"c":"Spain","yr":1985,"v":8.8},{"c":"Spain","yr":1986,"v":8.8},{"c":"Spain","yr":1987,"v":5.3},{"c":"Spain","yr":1988,"v":4.8},{"c":"Spain","yr":1989,"v":6.8},{"c":"Spain","yr":1990,"v":6.7},{"c":"Spain","yr":1991,"v":5.9},{"c":"Spain","yr":1992,"v":5.9},{"c":"Spain","yr":1993,"v":4.6},{"c":"Spain","yr":1994,"v":4.7},
{"c":"Spain","yr":1995,"v":4.7},{"c":"Spain","yr":1996,"v":3.6},{"c":"Spain","yr":1997,"v":2.0},{"c":"Spain","yr":1998,"v":1.8},{"c":"Spain","yr":1999,"v":2.3},{"c":"Spain","yr":2000,"v":3.4},{"c":"Spain","yr":2001,"v":3.6},{"c":"Spain","yr":2002,"v":3.1},{"c":"Spain","yr":2003,"v":3.0},{"c":"Spain","yr":2004,"v":3.0},
{"c":"Spain","yr":2005,"v":3.4},{"c":"Spain","yr":2006,"v":3.5},{"c":"Spain","yr":2007,"v":2.8},{"c":"Spain","yr":2008,"v":4.1},{"c":"Spain","yr":2009,"v":-0.3},{"c":"Spain","yr":2010,"v":1.8},{"c":"Spain","yr":2011,"v":3.2},{"c":"Spain","yr":2012,"v":2.4},{"c":"Spain","yr":2013,"v":1.4},{"c":"Spain","yr":2014,"v":-0.2},
{"c":"Spain","yr":2015,"v":-0.5},{"c":"Spain","yr":2016,"v":-0.2},{"c":"Spain","yr":2017,"v":2.0},{"c":"Spain","yr":2018,"v":1.7},{"c":"Spain","yr":2019,"v":0.7},{"c":"Spain","yr":2020,"v":-0.3},{"c":"Spain","yr":2021,"v":3.1},
{"c":"Sweden","yr":1965,"v":5.0},{"c":"Sweden","yr":1966,"v":6.4},{"c":"Sweden","yr":1967,"v":4.3},{"c":"Sweden","yr":1968,"v":1.9},{"c":"Sweden","yr":1969,"v":2.7},{"c":"Sweden","yr":1970,"v":7.0},{"c":"Sweden","yr":1971,"v":7.4},{"c":"Sweden","yr":1972,"v":6.0},{"c":"Sweden","yr":1973,"v":6.7},{"c":"Sweden","yr":1974,"v":9.9},
{"c":"Sweden","yr":1975,"v":9.8},{"c":"Sweden","yr":1976,"v":10.3},{"c":"Sweden","yr":1977,"v":11.4},{"c":"Sweden","yr":1978,"v":10.0},{"c":"Sweden","yr":1979,"v":7.2},{"c":"Sweden","yr":1980,"v":13.7},{"c":"Sweden","yr":1981,"v":12.1},{"c":"Sweden","yr":1982,"v":8.6},{"c":"Sweden","yr":1983,"v":8.9},{"c":"Sweden","yr":1984,"v":8.0},
{"c":"Sweden","yr":1985,"v":7.4},{"c":"Sweden","yr":1986,"v":4.2},{"c":"Sweden","yr":1987,"v":4.2},{"c":"Sweden","yr":1988,"v":5.8},{"c":"Sweden","yr":1989,"v":6.4},{"c":"Sweden","yr":1990,"v":10.5},{"c":"Sweden","yr":1991,"v":9.3},{"c":"Sweden","yr":1992,"v":2.3},{"c":"Sweden","yr":1993,"v":4.6},{"c":"Sweden","yr":1994,"v":2.2},
{"c":"Sweden","yr":1995,"v":2.5},{"c":"Sweden","yr":1996,"v":0.5},{"c":"Sweden","yr":1997,"v":0.5},{"c":"Sweden","yr":1998,"v":-0.1},{"c":"Sweden","yr":1999,"v":0.5},{"c":"Sweden","yr":2000,"v":0.9},{"c":"Sweden","yr":2001,"v":2.4},{"c":"Sweden","yr":2002,"v":2.2},{"c":"Sweden","yr":2003,"v":1.9},{"c":"Sweden","yr":2004,"v":0.4},
{"c":"Sweden","yr":2005,"v":0.5},{"c":"Sweden","yr":2006,"v":1.4},{"c":"Sweden","yr":2007,"v":2.2},{"c":"Sweden","yr":2008,"v":3.4},{"c":"Sweden","yr":2009,"v":-0.5},{"c":"Sweden","yr":2010,"v":1.2},{"c":"Sweden","yr":2011,"v":3.0},{"c":"Sweden","yr":2012,"v":0.9},{"c":"Sweden","yr":2013,"v":0.0},{"c":"Sweden","yr":2014,"v":-0.2},
{"c":"Sweden","yr":2015,"v":0.0},{"c":"Sweden","yr":2016,"v":1.0},{"c":"Sweden","yr":2017,"v":1.8},{"c":"Sweden","yr":2018,"v":2.0},{"c":"Sweden","yr":2019,"v":1.8},{"c":"Sweden","yr":2020,"v":0.5},{"c":"Sweden","yr":2021,"v":2.2},
{"c":"Switzerland","yr":1965,"v":3.4},{"c":"Switzerland","yr":1966,"v":4.7},{"c":"Switzerland","yr":1967,"v":4.0},{"c":"Switzerland","yr":1968,"v":2.4},{"c":"Switzerland","yr":1969,"v":2.5},{"c":"Switzerland","yr":1970,"v":3.6},{"c":"Switzerland","yr":1971,"v":6.6},{"c":"Switzerland","yr":1972,"v":6.7},{"c":"Switzerland","yr":1973,"v":8.7},{"c":"Switzerland","yr":1974,"v":9.8},
{"c":"Switzerland","yr":1975,"v":6.7},{"c":"Switzerland","yr":1976,"v":1.7},{"c":"Switzerland","yr":1977,"v":1.3},{"c":"Switzerland","yr":1978,"v":1.1},{"c":"Switzerland","yr":1979,"v":3.6},{"c":"Switzerland","yr":1980,"v":4.0},{"c":"Switzerland","yr":1981,"v":6.5},{"c":"Switzerland","yr":1982,"v":5.6},{"c":"Switzerland","yr":1983,"v":3.0},{"c":"Switzerland","yr":1984,"v":2.9},
{"c":"Switzerland","yr":1985,"v":3.4},{"c":"Switzerland","yr":1986,"v":0.8},{"c":"Switzerland","yr":1987,"v":1.4},{"c":"Switzerland","yr":1988,"v":1.9},{"c":"Switzerland","yr":1989,"v":3.2},{"c":"Switzerland","yr":1990,"v":5.4},{"c":"Switzerland","yr":1991,"v":5.9},{"c":"Switzerland","yr":1992,"v":4.0},{"c":"Switzerland","yr":1993,"v":3.3},{"c":"Switzerland","yr":1994,"v":0.9},
{"c":"Switzerland","yr":1995,"v":1.8},{"c":"Switzerland","yr":1996,"v":0.8},{"c":"Switzerland","yr":1997,"v":0.5},{"c":"Switzerland","yr":1998,"v":0.0},{"c":"Switzerland","yr":1999,"v":0.8},{"c":"Switzerland","yr":2000,"v":1.6},{"c":"Switzerland","yr":2001,"v":1.0},{"c":"Switzerland","yr":2002,"v":0.6},{"c":"Switzerland","yr":2003,"v":0.6},{"c":"Switzerland","yr":2004,"v":0.8},
{"c":"Switzerland","yr":2005,"v":1.2},{"c":"Switzerland","yr":2006,"v":1.1},{"c":"Switzerland","yr":2007,"v":0.7},{"c":"Switzerland","yr":2008,"v":2.4},{"c":"Switzerland","yr":2009,"v":-0.5},{"c":"Switzerland","yr":2010,"v":0.7},{"c":"Switzerland","yr":2011,"v":0.2},{"c":"Switzerland","yr":2012,"v":-0.7},{"c":"Switzerland","yr":2013,"v":-0.2},{"c":"Switzerland","yr":2014,"v":0.0},
{"c":"Switzerland","yr":2015,"v":-1.1},{"c":"Switzerland","yr":2016,"v":-0.4},{"c":"Switzerland","yr":2017,"v":0.5},{"c":"Switzerland","yr":2018,"v":0.9},{"c":"Switzerland","yr":2019,"v":0.4},{"c":"Switzerland","yr":2020,"v":-0.7},{"c":"Switzerland","yr":2021,"v":0.6},
{"c":"Türkiye","yr":1965,"v":4.6},{"c":"Türkiye","yr":1966,"v":8.4},{"c":"Türkiye","yr":1967,"v":14.0},{"c":"Türkiye","yr":1968,"v":4.8},{"c":"Türkiye","yr":1969,"v":5.1},{"c":"Türkiye","yr":1970,"v":7.9},{"c":"Türkiye","yr":1971,"v":19.0},{"c":"Türkiye","yr":1972,"v":15.4},{"c":"Türkiye","yr":1973,"v":14.0},{"c":"Türkiye","yr":1974,"v":23.9},
{"c":"Türkiye","yr":1975,"v":21.2},{"c":"Türkiye","yr":1976,"v":17.4},{"c":"Türkiye","yr":1977,"v":27.1},{"c":"Türkiye","yr":1978,"v":62.2},{"c":"Türkiye","yr":1979,"v":63.6},{"c":"Türkiye","yr":1980,"v":94.3},{"c":"Türkiye","yr":1981,"v":37.6},{"c":"Türkiye","yr":1982,"v":29.1},{"c":"Türkiye","yr":1983,"v":31.4},{"c":"Türkiye","yr":1984,"v":48.4},
{"c":"Türkiye","yr":1985,"v":45.0},{"c":"Türkiye","yr":1986,"v":34.6},{"c":"Türkiye","yr":1987,"v":38.9},{"c":"Türkiye","yr":1988,"v":68.8},{"c":"Türkiye","yr":1989,"v":63.3},{"c":"Türkiye","yr":1990,"v":60.3},{"c":"Türkiye","yr":1991,"v":66.0},{"c":"Türkiye","yr":1992,"v":70.1},{"c":"Türkiye","yr":1993,"v":66.1},{"c":"Türkiye","yr":1994,"v":105.2},
{"c":"Türkiye","yr":1995,"v":89.1},{"c":"Türkiye","yr":1996,"v":80.4},{"c":"Türkiye","yr":1997,"v":85.7},{"c":"Türkiye","yr":1998,"v":84.6},{"c":"Türkiye","yr":1999,"v":64.9},{"c":"Türkiye","yr":2000,"v":54.9},{"c":"Türkiye","yr":2001,"v":54.4},{"c":"Türkiye","yr":2002,"v":45.0},{"c":"Türkiye","yr":2003,"v":21.6},{"c":"Türkiye","yr":2004,"v":8.6},
{"c":"Türkiye","yr":2005,"v":8.2},{"c":"Türkiye","yr":2006,"v":9.6},{"c":"Türkiye","yr":2007,"v":8.8},{"c":"Türkiye","yr":2008,"v":10.4},{"c":"Türkiye","yr":2009,"v":6.3},{"c":"Türkiye","yr":2010,"v":8.6},{"c":"Türkiye","yr":2011,"v":6.5},{"c":"Türkiye","yr":2012,"v":8.9},{"c":"Türkiye","yr":2013,"v":7.5},{"c":"Türkiye","yr":2014,"v":8.9},
{"c":"Türkiye","yr":2015,"v":7.7},{"c":"Türkiye","yr":2016,"v":7.8},{"c":"Türkiye","yr":2017,"v":11.1},{"c":"Türkiye","yr":2018,"v":16.3},{"c":"Türkiye","yr":2019,"v":15.2},{"c":"Türkiye","yr":2020,"v":12.3},{"c":"Türkiye","yr":2021,"v":19.6},
{"c":"United Kingdom","yr":1965,"v":4.8},{"c":"United Kingdom","yr":1966,"v":3.9},{"c":"United Kingdom","yr":1967,"v":2.5},{"c":"United Kingdom","yr":1968,"v":4.7},{"c":"United Kingdom","yr":1969,"v":5.4},{"c":"United Kingdom","yr":1970,"v":6.4},{"c":"United Kingdom","yr":1971,"v":9.4},{"c":"United Kingdom","yr":1972,"v":7.1},{"c":"United Kingdom","yr":1973,"v":9.2},{"c":"United Kingdom","yr":1974,"v":16.0},
{"c":"United Kingdom","yr":1975,"v":24.2},{"c":"United Kingdom","yr":1976,"v":16.5},{"c":"United Kingdom","yr":1977,"v":15.8},{"c":"United Kingdom","yr":1978,"v":8.3},{"c":"United Kingdom","yr":1979,"v":13.4},{"c":"United Kingdom","yr":1980,"v":18.0},{"c":"United Kingdom","yr":1981,"v":11.9},{"c":"United Kingdom","yr":1982,"v":8.6},{"c":"United Kingdom","yr":1983,"v":4.6},{"c":"United Kingdom","yr":1984,"v":5.0},
{"c":"United Kingdom","yr":1985,"v":6.1},{"c":"United Kingdom","yr":1986,"v":3.4},{"c":"United Kingdom","yr":1987,"v":4.1},{"c":"United Kingdom","yr":1988,"v":4.2},{"c":"United Kingdom","yr":1989,"v":5.2},{"c":"United Kingdom","yr":1990,"v":7.0},{"c":"United Kingdom","yr":1991,"v":7.5},{"c":"United Kingdom","yr":1992,"v":4.3},{"c":"United Kingdom","yr":1993,"v":2.5},{"c":"United Kingdom","yr":1994,"v":2.0},
{"c":"United Kingdom","yr":1995,"v":2.6},{"c":"United Kingdom","yr":1996,"v":2.5},{"c":"United Kingdom","yr":1997,"v":1.8},{"c":"United Kingdom","yr":1998,"v":1.6},{"c":"United Kingdom","yr":1999,"v":1.3},{"c":"United Kingdom","yr":2000,"v":0.8},{"c":"United Kingdom","yr":2001,"v":1.2},{"c":"United Kingdom","yr":2002,"v":1.3},{"c":"United Kingdom","yr":2003,"v":1.4},{"c":"United Kingdom","yr":2004,"v":1.3},
{"c":"United Kingdom","yr":2005,"v":2.1},{"c":"United Kingdom","yr":2006,"v":2.3},{"c":"United Kingdom","yr":2007,"v":2.3},{"c":"United Kingdom","yr":2008,"v":3.6},{"c":"United Kingdom","yr":2009,"v":2.2},{"c":"United Kingdom","yr":2010,"v":3.3},{"c":"United Kingdom","yr":2011,"v":4.5},{"c":"United Kingdom","yr":2012,"v":2.8},{"c":"United Kingdom","yr":2013,"v":2.6},{"c":"United Kingdom","yr":2014,"v":1.5},
{"c":"United Kingdom","yr":2015,"v":0.4},{"c":"United Kingdom","yr":2016,"v":1.0},{"c":"United Kingdom","yr":2017,"v":2.6},{"c":"United Kingdom","yr":2018,"v":2.3},{"c":"United Kingdom","yr":2019,"v":1.7},{"c":"United Kingdom","yr":2020,"v":1.0},{"c":"United Kingdom","yr":2021,"v":2.5},
{"c":"United States","yr":1965,"v":1.6},{"c":"United States","yr":1966,"v":3.0},{"c":"United States","yr":1967,"v":2.8},{"c":"United States","yr":1968,"v":4.3},{"c":"United States","yr":1969,"v":5.5},{"c":"United States","yr":1970,"v":5.8},{"c":"United States","yr":1971,"v":4.3},{"c":"United States","yr":1972,"v":3.3},{"c":"United States","yr":1973,"v":6.2},{"c":"United States","yr":1974,"v":11.1},
{"c":"United States","yr":1975,"v":9.1},{"c":"United States","yr":1976,"v":5.7},{"c":"United States","yr":1977,"v":6.5},{"c":"United States","yr":1978,"v":7.6},{"c":"United States","yr":1979,"v":11.3},{"c":"United States","yr":1980,"v":13.5},{"c":"United States","yr":1981,"v":10.3},{"c":"United States","yr":1982,"v":6.1},{"c":"United States","yr":1983,"v":3.2},{"c":"United States","yr":1984,"v":4.3},
{"c":"United States","yr":1985,"v":3.5},{"c":"United States","yr":1986,"v":1.9},{"c":"United States","yr":1987,"v":3.7},{"c":"United States","yr":1988,"v":4.1},{"c":"United States","yr":1989,"v":4.8},{"c":"United States","yr":1990,"v":5.4},{"c":"United States","yr":1991,"v":4.2},{"c":"United States","yr":1992,"v":3.0},{"c":"United States","yr":1993,"v":3.0},{"c":"United States","yr":1994,"v":2.6},
{"c":"United States","yr":1995,"v":2.8},{"c":"United States","yr":1996,"v":2.9},{"c":"United States","yr":1997,"v":2.3},{"c":"United States","yr":1998,"v":1.6},{"c":"United States","yr":1999,"v":2.2},{"c":"United States","yr":2000,"v":3.4},{"c":"United States","yr":2001,"v":2.8},{"c":"United States","yr":2002,"v":1.6},{"c":"United States","yr":2003,"v":2.3},{"c":"United States","yr":2004,"v":2.7},
{"c":"United States","yr":2005,"v":3.4},{"c":"United States","yr":2006,"v":3.2},{"c":"United States","yr":2007,"v":2.9},{"c":"United States","yr":2008,"v":3.8},{"c":"United States","yr":2009,"v":-0.4},{"c":"United States","yr":2010,"v":1.6},{"c":"United States","yr":2011,"v":3.2},{"c":"United States","yr":2012,"v":2.1},{"c":"United States","yr":2013,"v":1.5},{"c":"United States","yr":2014,"v":1.6},
{"c":"United States","yr":2015,"v":0.1},{"c":"United States","yr":2016,"v":1.3},{"c":"United States","yr":2017,"v":2.1},{"c":"United States","yr":2018,"v":2.4},{"c":"United States","yr":2019,"v":1.8},{"c":"United States","yr":2020,"v":1.2},{"c":"United States","yr":2021,"v":4.7}
]},
"mark":{"type":"line","strokeWidth":2.6,"clip":true},
"encoding":{
"x":{"field":"yr","type":"quantitative","scale":{"domain":[1962.03,2023.44],"nice":false,"zero":false},
 "axis":{"title":"Year","values":[1970,1980,1990,2000,2010,2020],"format":"d","labelPadding":9,"titlePadding":14}},
"y":{"field":"v","type":"quantitative","scale":{"domain":[-7.1,110.1],"nice":false,"zero":false},
 "axis":{"title":"Percentage","values":[0,20,40,60,80,100],"labelPadding":8,"titlePadding":22}},
"color":{"field":"c","type":"nominal",
 "scale":{"domain":["Australia","Iceland","Portugal","Austria","Italy","Spain","Belgium","Korea","Sweden","Canada","Luxembourg","Switzerland","Finland","Netherlands","Türkiye","France","New Zealand","United Kingdom","Germany","Norway","United States","Greece"],
  "range":["#1f77b4","#bcbd22","#8c564b","#ff7f0e","#17becf","#e377c2","#2ca02c","#1f77b4","#7f7f7f","#d62728","#ff7f0e","#bcbd22","#9467bd","#2ca02c","#17becf","#8c564b","#d62728","#1f77b4","#e377c2","#9467bd","#ff7f0e","#7f7f7f"]},
 "legend":{"title":null,"orient":"none","legendX":15,"legendY":678,"columns":3,"direction":"horizontal","symbolType":"M-1,0H3","symbolSize":841,"symbolStrokeWidth":3,"labelFont":"DejaVu Sans","labelFontSize":26,"labelColor":"black","labelOffset":47,"labelLimit":400,"rowPadding":11,"columnPadding":44,"padding":7,"strokeColor":"#cccccc","fillColor":"white","cornerRadius":4}}
},
"config":{
"view":{"stroke":"black","strokeWidth":1.8},
"axis":{"grid":false,"domainColor":"black","domainWidth":1.8,"tickColor":"black","tickWidth":1.8,"tickSize":9,"labelFont":"DejaVu Sans","labelFontSize":24,"labelColor":"black","titleFont":"DejaVu Sans","titleFontSize":24,"titleFontWeight":"normal","titleColor":"black"}
}
}
